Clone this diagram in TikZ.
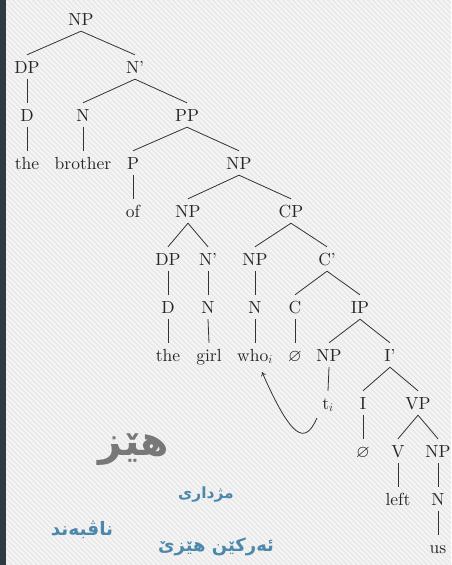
\documentclass[tikz,border=0pt]{standalone}
\usepackage{amssymb}
\usepackage{fontspec}
\setmainfont{lmroman10-regular.otf}[BoldFont=lmroman10-bold.otf, ItalicFont=lmroman10-italic.otf]
\usetikzlibrary{arrows.meta}
\TeXXeTstate=1
\newfontfamily\arabicfont[Script=Arabic]{DejaVu Sans}
\definecolor{bgc}{HTML}{E7E7E7}
\definecolor{stripec}{HTML}{F5F5F5}
\definecolor{sidec}{HTML}{2F3B40}
\definecolor{txt}{HTML}{262626}
\definecolor{ln}{HTML}{333333}
\definecolor{bluet}{HTML}{4C87AC}
\definecolor{grayt}{HTML}{787878}
\begin{document}
\begin{tikzpicture}[x=1pt,y=-1pt,
  lab/.style={font=\fontsize{17.5}{20}\selectfont, text=txt, text height=13pt, text depth=1pt, inner sep=5pt, anchor=base},
  br/.style={draw=ln, line width=0.8pt},
  ar/.style={text=bluet, inner sep=0pt}]
% background
\useasboundingbox (0,0) rectangle (451,565);
\fill[bgc] (0,0) rectangle (451,565);
\begin{scope}
\clip (0,0) rectangle (451,565);
\foreach \k in {-600,-595,...,455} {
  \draw[stripec, line width=1.8pt] (\k,0) -- ++(565,565);
}
\end{scope}
\fill[sidec] (0,0) rectangle (6,565);
% tree nodes
\node[lab] (np0) at (81,25) {NP};
\node[lab] (dp1) at (27,73) {DP};
\node[lab] (nb1) at (135,73) {N'};
\node[lab] (d1) at (27,121) {D};
\node[lab] (n1) at (83,121) {N};
\node[lab] (pp) at (187,121) {PP};
\node[lab] (the1) at (27,169) {the};
\node[lab] (bro) at (83,169) {brother};
\node[lab] (p) at (133,169) {P};
\node[lab] (np2) at (239,169) {NP};
\node[lab] (of) at (133,217) {of};
\node[lab] (np3) at (188,217) {NP};
\node[lab] (cp) at (291,217) {CP};
\node[lab] (dp3) at (168,265) {DP};
\node[lab] (nb3) at (208,265) {N'};
\node[lab] (np4) at (255,265) {NP};
\node[lab] (cb) at (327,265) {C'};
\node[lab] (d3) at (168,313) {D};
\node[lab] (n3) at (208,313) {N};
\node[lab] (n4) at (255,313) {N};
\node[lab] (c) at (295,313) {C};
\node[lab] (ip) at (360,313) {IP};
\node[lab] (the3) at (168,361) {the};
\node[lab] (girl) at (209,361) {girl};
\node[lab] (who) at (255,361) {who$_i$};
\node[lab] (nullc) at (295,361) {$\varnothing$};
\node[lab] (np5) at (329,361) {NP};
\node[lab] (ib) at (390,361) {I'};
\node[lab] (ti) at (328,409) {t$_i$};
\node[lab] (i) at (363,409) {I};
\node[lab] (vp) at (418,409) {VP};
\node[lab] (nulli) at (363,457) {$\varnothing$};
\node[lab] (v) at (398,457) {V};
\node[lab] (np6) at (438,457) {NP};
\node[lab] (left) at (398,505) {left};
\node[lab] (n6) at (438,505) {N};
\node[lab] (us) at (438,553) {us};
% branches
\foreach \a/\b in {np0/dp1,np0/nb1,dp1/d1,nb1/n1,nb1/pp,d1/the1,n1/bro,pp/p,pp/np2,p/of,
  np2/np3,np2/cp,np3/dp3,np3/nb3,cp/np4,cp/cb,dp3/d3,nb3/n3,np4/n4,cb/c,cb/ip,
  d3/the3,n3/girl,n4/who,c/nullc,ip/np5,ip/ib,np5/ti,ib/i,ib/vp,i/nulli,vp/v,vp/np6,
  v/left,np6/n6,n6/us}
  \draw[br] (\a.south) -- (\b.north);
% movement arrow
\coordinate (as) at (317,418);
\coordinate (ae) at (262,372);
\draw[br, -{To[length=4pt,width=5pt]}] (as) .. controls (305,445) and (292,440) .. (ae);
% Kurdish labels
\node[font=\fontsize{41}{44}\selectfont\arabicfont\bfseries, text=grayt, inner sep=0pt] (hez) at (134,450) {\beginR هێز\endR};
\node[ar, font=\fontsize{15.5}{18}\selectfont\arabicfont\bfseries] (mzh) at (206,494) {\beginR مژداری\endR};
\node[ar, font=\fontsize{18.5}{21}\selectfont\arabicfont\bfseries] (nav) at (82,530) {\beginR ناڤبەند\endR};
\node[ar, font=\fontsize{18}{21}\selectfont\arabicfont\bfseries] (erk) at (216,547) {\beginR ئەرکێن هێزێ\endR};
\end{tikzpicture}
\end{document}
